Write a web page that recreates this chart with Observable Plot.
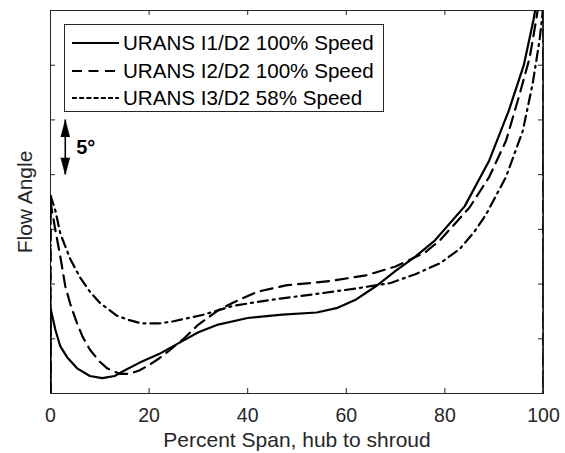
<!DOCTYPE html>
<html>
<head>
<meta charset="utf-8">
<script src="https://cdn.jsdelivr.net/npm/d3@7"></script>
<script src="https://cdn.jsdelivr.net/npm/@observablehq/plot@0.6"></script>
<style>
  html, body { margin: 0; padding: 0; background: white; }
  #wrap { position: relative; width: 565px; height: 453px; font-family: "Liberation Sans", Arial, sans-serif; }
  #legend { position: absolute; left: 64px; top: 24px; width: 320px; height: 88px; box-sizing: border-box;
            border: 1px solid #262626; background: white; }
  .row { position: absolute; left: 0; height: 28px; display: flex; align-items: center; }
  .row svg { margin-left: 7px; }
  .row span { margin-left: 4px; font-size: 20.6px; color: #000; white-space: nowrap; }
</style>
</head>
<body>
<div id="wrap"></div>
<script>
// ---- data ----
const seriesNames = ["URANS I1/D2 100% Speed", "URANS I2/D2 100% Speed", "URANS I3/D2 58% Speed"];
const dashStyles = ["none", "12,7", "10,5,2,5"];

const spanI1  = [0, 0, 1, 2, 3.4, 5.4, 8, 10.5, 13, 15, 18, 22, 26, 30, 34, 40, 47, 54, 58, 62, 66, 70, 74, 78, 84, 89, 93, 96, 98, 99, 100, 100];
const angleI1 = [0, 7.8, 5.8, 4.3, 3.3, 2.3, 1.6, 1.4, 1.6, 2.1, 2.8, 3.6, 4.6, 5.6, 6.3, 6.9, 7.2, 7.4, 7.8, 8.6, 9.8, 11.2, 12.5, 14.0, 17.1, 21.3, 25.9, 30.0, 34.2, 37, 40, 0];

const spanI2  = [0, 0, 1, 2, 3, 4, 5.4, 6.5, 8, 10, 11.5, 14, 16, 18, 20, 22, 24, 27, 30, 34, 37, 42, 48, 53, 57, 64, 70, 76, 79, 85, 89, 92.4, 95, 97.2, 98.5, 99.3, 100, 100];
const angleI2 = [0, 17.5, 14.9, 12.5, 9.8, 8.2, 6.4, 5.2, 4.0, 2.9, 2.3, 1.8, 1.8, 2.1, 2.6, 3.2, 3.9, 5.0, 6.3, 7.6, 8.3, 9.3, 9.9, 10.1, 10.3, 10.8, 11.6, 12.9, 14.0, 17.0, 19.8, 23.1, 27.1, 30.7, 34.1, 36.5, 39, 0];

const spanI3  = [0, 0, 1, 2, 4, 6, 8, 10, 13.5, 16, 18.5, 22, 25, 28, 31, 34, 37, 41, 47, 54, 62, 69, 74, 79, 83, 86, 88.4, 92.4, 95.8, 97.8, 99.2, 99.8, 100, 100];
const angleI3 = [0, 18.1, 16.7, 14.6, 12.3, 10.6, 9.3, 8.3, 7.1, 6.7, 6.4, 6.4, 6.6, 6.9, 7.2, 7.6, 8.0, 8.3, 8.7, 9.1, 9.6, 10.1, 10.9, 11.9, 13.2, 14.8, 16.4, 19.8, 24.0, 28.3, 32.3, 34.7, 36, 0];

const xTicks = [0, 20, 40, 60, 80, 100];
const yTicks = [0, 5, 10, 15, 20, 25, 30, 35];
const xLabel = "Percent Span, hub to shroud";
const yLabel = "Flow Angle";

// scale-bar annotation (5 degrees)
const arrowX = 3, arrowTop = 25, arrowBottom = 20;
const arrowText = "5°", arrowTextX = 5.2;

// ---- build ----
const series = [[spanI1, angleI1], [spanI2, angleI2], [spanI3, angleI3]];
const rows = series.flatMap(([xs, ys], k) => xs.map((x, i) => ({x, y: ys[i], s: k})));

const W = 565, H = 453, mL = 50, mR = 22, mT = 10, mB = 60;
const innerH = H - mT - mB, innerW = W - mL - mR;
const tick = 5;
const ink = "#262626";

const plot = Plot.plot({
  width: W, height: H,
  marginLeft: mL, marginRight: mR, marginTop: mT, marginBottom: mB,
  style: {fontFamily: "'Liberation Sans', Arial, sans-serif", fontSize: "19px", color: ink, background: "white"},
  x: {domain: [0, 100], label: null},
  y: {domain: [0, 35], label: null},
  marks: [
    Plot.axisX(xTicks, {tickSize: 0, tickPadding: 15, fontSize: 19.5, fill: ink}),
    Plot.axisY(yTicks, {tickSize: 0, tickFormat: () => ""}),
    // inward ticks on all four sides
    Plot.ruleX(xTicks, {x: d => d, insetTop: innerH - tick, stroke: ink}),
    Plot.ruleX(xTicks, {x: d => d, insetBottom: innerH - tick, stroke: ink}),
    Plot.ruleY(yTicks, {y: d => d, insetRight: innerW - tick, stroke: ink}),
    Plot.ruleY(yTicks, {y: d => d, insetLeft: innerW - tick, stroke: ink}),
    Plot.frame({stroke: ink, strokeWidth: 1}),
    ...series.map((_, k) => Plot.line(rows.filter(d => d.s === k), {
      x: "x", y: "y", stroke: "black", strokeWidth: 2.2,
      strokeDasharray: dashStyles[k] === "none" ? null : dashStyles[k],
      clip: true, curve: "linear"
    })),
    // 5° scale arrow
    Plot.ruleX([arrowX], {x: d => d, y1: arrowTop, y2: arrowBottom, stroke: "black", strokeWidth: 1.6}),
    Plot.vector([{x: arrowX, y: arrowTop, r: 0}, {x: arrowX, y: arrowBottom, r: 180}], {
      x: "x", y: "y", rotate: "r", length: 17, shape: "spike", r: 4.5, anchor: "end",
      fill: "black", fillOpacity: 1, stroke: "black", strokeWidth: 0.5
    }),
    Plot.text([arrowText], {x: arrowTextX, y: (arrowTop + arrowBottom) / 2, text: d => d,
      textAnchor: "start", fontWeight: "bold", fontSize: 20, fill: "black"}),
    // axis titles
    Plot.text([xLabel], {frameAnchor: "bottom", dy: 53, text: d => d, fontSize: 21, fill: ink}),
    Plot.text([yLabel], {frameAnchor: "left", dx: -25, rotate: -90, textAnchor: "middle", text: d => d, fontSize: 21, fill: ink})
  ]
});

const wrap = document.getElementById("wrap");
wrap.appendChild(plot);

// legend box inside the axes
const legend = document.createElement("div");
legend.id = "legend";
seriesNames.forEach((name, k) => {
  const row = document.createElement("div");
  row.className = "row";
  row.style.top = (4 + k * 27.5) + "px";
  const dash = k === 0 ? "" : (k === 1 ? "10,6.5" : "5,2.2");
  row.innerHTML = `<svg width="47" height="10"><line x1="0" y1="5" x2="47" y2="5" stroke="black" stroke-width="2.2" ${dash ? `stroke-dasharray="${dash}"` : ""}/></svg><span>${name}</span>`;
  legend.appendChild(row);
});
wrap.appendChild(legend);
</script>
</body>
</html>
